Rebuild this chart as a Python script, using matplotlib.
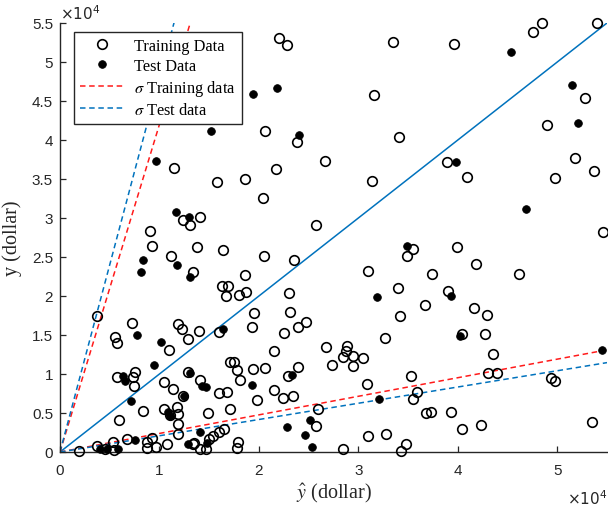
import matplotlib
matplotlib.use("Agg")
import numpy as np
import matplotlib.pyplot as plt
from matplotlib.ticker import FuncFormatter, MultipleLocator

plt.rcParams['mathtext.fontset'] = 'stix'
plt.rcParams['font.family'] = ['Liberation Sans', 'DejaVu Sans']

# ---------------- data (dollars) ----------------
train_x = [11470, 15790, 18610, 20420, 21730, 20620, 22030, 22840, 23840, 12370,
           13080, 14080, 9050, 9260, 13780, 16400, 33500, 39640, 47580, 48490,
           54020, 52820, 48990, 31590, 34100, 26660, 31390, 38930, 40940, 51810,
           49800, 53720, 25750, 54630, 35510, 39940, 20520, 23540, 11170, 13380,
           18610, 16300, 16900, 16700, 18010, 18710, 19520, 23040, 23140, 23940,
           22530, 19320, 21530, 16000, 13980, 12880, 11870, 12270, 7240, 3720,
           5530, 5730, 10970, 5730, 7340, 7550, 7440, 10460, 11370, 12880,
           14080, 17100, 17500, 17810, 19420, 20620, 18110, 21530, 22430, 23440,
           22940, 23940, 16000, 16800, 19820, 17100, 8350, 10460, 11070, 11770,
           12370, 11870, 11870, 11870, 14890, 5940, 13380, 14990, 15390, 16000,
           16500, 17910, 17810, 14080, 6740, 5330, 8750, 9260, 8750, 9660,
           10760, 4530, 3720, 1910, 5430, 13480, 14690, 25750, 24750, 26760,
           27360, 30990, 37420, 41850, 46180, 34000, 36720, 39030, 41650, 42960,
           34200, 40440, 42760, 32700, 28870, 28770, 28470, 29480, 30480, 29480,
           43560, 35310, 30880, 43060, 43960, 49400, 49800, 35910, 35510, 25960,
           36820, 37320, 39340, 40440, 42350, 53520, 30990, 32800, 34810, 34310,
           28470, 34910]
train_y = [36410, 34610, 35000, 32560, 36280, 41150, 53080, 52180, 39740, 29740,
           29100, 30130, 28330, 26410, 26280, 25900, 52560, 52310, 53840, 55000,
           55000, 45380, 41920, 45770, 40380, 37310, 34740, 37180, 35260, 37690,
           35130, 36020, 29100, 28200, 26030, 26280, 25130, 24610, 25130, 23080,
           22690, 21280, 21280, 20000, 20130, 20510, 17820, 20380, 17950, 16030,
           15260, 16030, 12950, 15380, 15510, 14490, 16410, 15770, 16540, 17440,
           14740, 13970, 13080, 9620, 9620, 10260, 8460, 8970, 8080, 10260,
           9230, 11540, 11540, 10510, 10640, 10770, 9230, 7950, 6920, 7180,
           9740, 10900, 7560, 7690, 6670, 5510, 5260, 5510, 4740, 5770,
           7180, 4870, 3590, 2310, 5000, 4100, 1030, 1670, 2050, 2560,
           2950, 1280, 510, 390, 1670, 1280, 1280, 1800, 510, 640,
           1030, 390, 770, 130, 260, 1150, 390, 3330, 16670, 13460,
           11150, 23200, 22820, 24100, 22820, 21030, 18850, 20640, 18460, 17560,
           17440, 15130, 15130, 14620, 13590, 12950, 12180, 12310, 12050, 11030,
           12560, 9740, 8720, 10130, 10130, 9490, 9100, 7690, 6800, 5510,
           5000, 5130, 5130, 2950, 3460, 3850, 2050, 2310, 1030, 130,
           390, 25130]

test_x = [9660, 15190, 19420, 21830, 24040, 11670, 12980, 45370, 51510, 52110,
          39840, 46880, 34910, 8350, 8150, 11770, 13080, 16400, 7750, 10160,
          9460, 6340, 6540, 13080, 14290, 14690, 19320, 23340, 7140, 10870,
          11070, 12470, 14080, 12880, 14790, 7550, 4020, 4730, 5840, 31890,
          39340, 40240, 32090, 25150, 24650, 25350, 22840, 54530]
test_y = [37310, 41150, 45900, 46670, 40640, 30770, 30130, 51280, 47050, 42180,
          37180, 31150, 26410, 24610, 23080, 23970, 22440, 15770, 15000, 14100,
          11150, 9740, 9100, 10130, 8460, 8330, 8590, 9870, 6540, 5130,
          4620, 7180, 2560, 1030, 1150, 1540, 390, 390, 390, 19870,
          20000, 14870, 6800, 4100, 2180, 640, 3210, 13080]

# spread (slope) factors of the sigma bounds
sigma_train = 4.2
sigma_test = 4.8

x_limits = [0, 55000]
y_limits = [0, 55000]

# ---------------- figure ----------------
W, H = 608, 510
fig = plt.figure(figsize=(W / 100, H / 100), dpi=100)
ax = fig.add_axes([60 / W, 57 / H, 547 / W, 429 / H])

blue = '#0072BD'
red = '#FF1A1A'
axcol = '#262626'

ax.plot(train_x, train_y, 'o', ls='none', mfc='none', mec='black', ms=6.9, mew=1.2,
        clip_on=False, zorder=3, label='Training Data')
ax.plot(test_x, test_y, 'o', ls='none', mfc='black', mec='black', ms=5.5, mew=0.6,
        clip_on=False, zorder=4, label='Test Data')

xx = np.array(x_limits, dtype=float)
ax.plot(xx, xx, '-', color=blue, lw=1.1, zorder=2)
dash = (0, (3.6, 2.4))
ax.plot(xx, sigma_train * xx, color=red, lw=1.1, ls=dash, zorder=2, label=r'$\sigma$ Training data')
ax.plot(xx, xx / sigma_train, color=red, lw=1.1, ls=dash, zorder=2)
ax.plot(xx, sigma_test * xx, color=blue, lw=1.1, ls=dash, zorder=2, label=r'$\sigma$ Test data')
ax.plot(xx, xx / sigma_test, color=blue, lw=1.1, ls=dash, zorder=2)

ax.set_xlim(*x_limits)
ax.set_ylim(*y_limits)

for s in ['top', 'right']:
    ax.spines[s].set_visible(False)
for s in ['left', 'bottom']:
    ax.spines[s].set_color(axcol)
    ax.spines[s].set_linewidth(1.0)

ax.xaxis.set_major_locator(MultipleLocator(10000))
ax.yaxis.set_major_locator(MultipleLocator(5000))
fmt = FuncFormatter(lambda v, p: '%g' % (v / 1e4))
ax.xaxis.set_major_formatter(fmt)
ax.yaxis.set_major_formatter(fmt)
ax.tick_params(direction='in', length=4, width=0.9, colors=axcol, labelsize=11,
               labelcolor=axcol)
ax.tick_params(axis='x', pad=8)
ax.tick_params(axis='y', pad=5)

ax.text(0.0, 1.002, r'$\times10^4$', transform=ax.transAxes, ha='left', va='bottom',
        fontsize=11, color=axcol, math_fontfamily='dejavusans')
ax.text(1.0, -0.085, r'$\times10^4$', transform=ax.transAxes, ha='right', va='top',
        fontsize=11, color=axcol, math_fontfamily='dejavusans')

ax.set_xlabel(r'$\hat{y}$ (dollar)', fontsize=14.5, family='Liberation Serif', color=axcol,
              labelpad=3)
ax.set_ylabel('y (dollar)', fontsize=14.5, family='Liberation Serif', color=axcol,
              labelpad=7)

leg = ax.legend(loc='upper left', bbox_to_anchor=(0.026, 0.979), borderaxespad=0,
                prop={'family': 'Liberation Serif', 'size': 11.8}, fancybox=False,
                framealpha=1, edgecolor=axcol, handlelength=2.7, handletextpad=0.6,
                labelspacing=0.25, borderpad=0.35)
leg.get_frame().set_linewidth(1.0)

fig.savefig('out.png', dpi=100)
